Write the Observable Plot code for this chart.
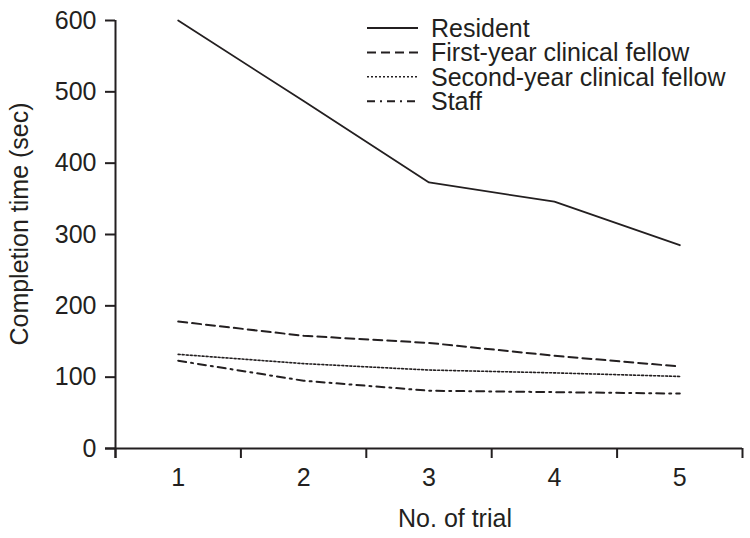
<!DOCTYPE html>
<html><head><meta charset="utf-8">
<script src="https://cdn.jsdelivr.net/npm/d3@7"></script>
<script src="https://cdn.jsdelivr.net/npm/@observablehq/plot@0.6"></script>
<style>body{margin:0;background:#fff}</style>
</head><body><div id="chart"></div>
<script>
const trials = [1, 2, 3, 4, 5];
const resident = [600, 487, 373, 346, 285];
const firstYear = [178, 158, 148, 130, 115];
const secondYear = [132, 119, 110, 106, 101];
const staff = [123, 95, 81, 79, 77];
const seriesNames = ["Resident", "First-year clinical fellow", "Second-year clinical fellow", "Staff"];
const seriesValues = [resident, firstYear, secondYear, staff];
const yTicks = [0, 100, 200, 300, 400, 500, 600];
const xBoundaries = [0.5, 1.5, 2.5, 3.5, 4.5, 5.5];

const ink = "#231f20";
const dashes = [null, "9,5", "2,2", "8,5,2,5"];
const widths = [1.8, 2, 1.6, 2];
const rows = seriesNames.flatMap((name, k) =>
  trials.map((t, i) => ({series: name, trial: t, value: seriesValues[k][i]})));

const lines = seriesNames.map((name, k) =>
  Plot.line(rows.filter(d => d.series === name), {
    x: "trial", y: "value", stroke: ink, strokeWidth: widths[k],
    strokeDasharray: dashes[k] ?? undefined
  }));

function legend() {
  const g = d3.create("svg:g");
  seriesNames.forEach((name, k) => {
    const y = 28 + k * 24.4;
    const l = g.append("line").attr("x1", 367).attr("x2", 418).attr("y1", y).attr("y2", y)
      .attr("stroke", ink).attr("stroke-width", widths[k]);
    if (dashes[k]) l.attr("stroke-dasharray", dashes[k]);
    g.append("text").attr("x", 431).attr("y", y).attr("dy", "0.35em")
      .attr("text-anchor", "start").attr("fill", ink).text(name);
  });
  return g.node();
}

const chart = Plot.plot({
  width: 750, height: 538,
  marginLeft: 115, marginRight: 8, marginTop: 20, marginBottom: 90,
  style: {fontFamily: "'Liberation Sans', Arial, Helvetica, sans-serif", fontSize: "25px", color: ink, background: "#fff"},
  x: {type: "linear", domain: [0.5, 5.5]},
  y: {domain: [0, 600]},
  marks: [
    Plot.axisY(yTicks, {tickSize: 10, tickPadding: 9, strokeWidth: 2, label: null}),
    Plot.axisX(xBoundaries, {tickSize: 10, tickFormat: () => "", strokeWidth: 2, label: null}),
    Plot.axisX(trials, {tickSize: 0, tickPadding: 20, tickFormat: d => String(d), label: null}),
    Plot.ruleY([0], {insetLeft: -10, stroke: ink, strokeWidth: 2}),
    Plot.ruleX([0.5], {insetBottom: -10, stroke: ink, strokeWidth: 2}),
    ...lines,
    Plot.text(["No. of trial"], {text: d => d, frameAnchor: "bottom", lineAnchor: "middle", textAnchor: "middle", dx: 26, dy: 70, fill: ink}),
    Plot.text(["Completion time (sec)"], {text: d => d, frameAnchor: "left", rotate: -90, textAnchor: "middle", lineAnchor: "middle", dx: -96, dy: -10.5, fill: ink}),
    legend
  ]
});
document.getElementById("chart").append(chart);
</script>
</body></html>
